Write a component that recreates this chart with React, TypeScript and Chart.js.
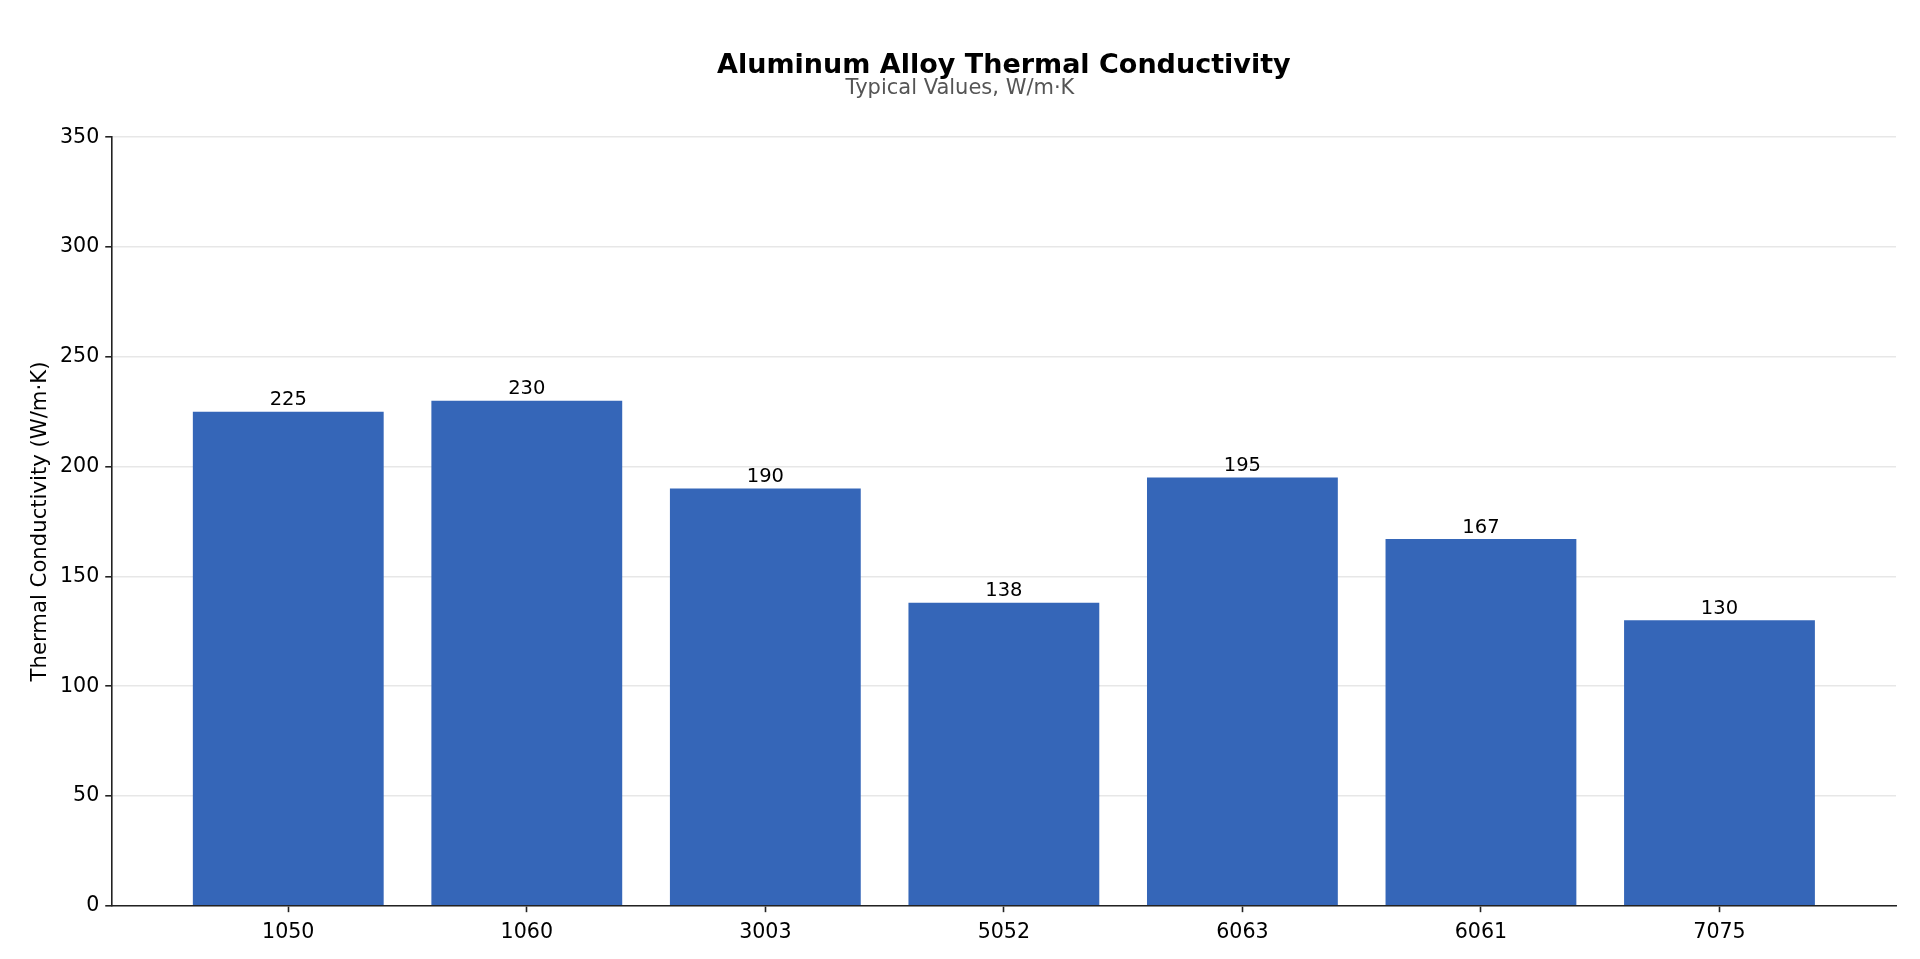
import React, { useEffect, useRef } from "react";
import { Chart, registerables } from "chart.js";

Chart.register(...registerables);

const alloys: string[] = ["1050", "1060", "3003", "5052", "6063", "6061", "7075"];
const conductivity: number[] = [225, 230, 190, 138, 195, 167, 130];
const yTicks: number[] = [0, 50, 100, 150, 200, 250, 300, 350];

const TITLE = "Aluminum Alloy Thermal Conductivity";
const SUBTITLE = "Typical Values, W/m·K";
const Y_LABEL = "Thermal Conductivity (W/m·K)";

const FONT = "'DejaVu Sans', sans-serif";
const BAR_COLOR = "#3566B8";
const AXIS_COLOR = "#222222";
const GRID_COLOR = "rgba(176,176,176,0.3)";

const barLabels = {
  id: "barLabels",
  afterDatasetsDraw(chart: any) {
    const ctx = chart.ctx;
    const meta = chart.getDatasetMeta(0);
    ctx.save();
    ctx.font = `19.5px ${FONT}`;
    ctx.fillStyle = "#000";
    ctx.textAlign = "center";
    ctx.textBaseline = "alphabetic";
    meta.data.forEach((bar: any, i: number) => {
      ctx.fillText(String(conductivity[i]), bar.x, bar.y - 6.5);
    });
    ctx.restore();
  },
};

export default function App() {
  const canvasRef = useRef<HTMLCanvasElement | null>(null);

  useEffect(() => {
    if (!canvasRef.current) return;
    const chart = new Chart(canvasRef.current, {
      type: "bar",
      data: {
        datasets: [
          {
            label: "Thermal Conductivity",
            data: conductivity.map((v, i) => ({ x: i, y: v })),
            backgroundColor: BAR_COLOR,
            borderWidth: 0,
            barPercentage: 0.8,
            categoryPercentage: 1.0,
          },
        ],
      },
      options: {
        animation: false,
        responsive: true,
        maintainAspectRatio: false,
        layout: { padding: { left: 16, right: 16, top: 0, bottom: -1.9 } },
        plugins: {
          legend: { display: false },
          tooltip: { enabled: false },
          title: {
            display: true,
            text: TITLE,
            fullSize: false,
            color: "#000",
            font: { family: FONT, size: 27, weight: "bold", lineHeight: 0.8 },
            padding: { top: 47.5, bottom: 0 },
          },
          subtitle: {
            display: true,
            text: SUBTITLE,
            color: "#555",
            font: { family: FONT, size: 21, lineHeight: 1.0 },
            padding: { top: 0.9, bottom: 38.3 },
          },
        },
        scales: {
          x: {
            type: "linear",
            offset: false,
            min: -0.74,
            max: 6.74,
            afterBuildTicks: (scale: any) => {
              scale.ticks = alloys.map((_, i) => ({ value: i }));
            },
            ticks: {
              autoSkip: false,
              maxRotation: 0,
              color: "#000",
              padding: 8,
              font: { family: FONT, size: 20.6 },
              callback: (v: any) => alloys[Math.round(Number(v))] ?? "",
            },
            grid: {
              offset: false,
              drawOnChartArea: false,
              drawTicks: true,
              tickLength: 6.5,
              tickColor: AXIS_COLOR,
              tickWidth: 1.6,
            },
            border: { display: true, color: AXIS_COLOR, width: 1.6 },
          },
          y: {
            type: "linear",
            min: 0,
            max: 350,
            z: 1,
            afterBuildTicks: (scale: any) => {
              scale.ticks = yTicks.map((v) => ({ value: v }));
            },
            ticks: {
              color: "#000",
              padding: 6,
              font: { family: FONT, size: 20.6 },
            },
            grid: {
              color: GRID_COLOR,
              lineWidth: 1.6,
              drawTicks: true,
              tickLength: 6.5,
              tickColor: AXIS_COLOR,
              tickWidth: 1.6,
            },
            border: { display: true, color: AXIS_COLOR, width: 1.6 },
            title: {
              display: true,
              text: Y_LABEL,
              color: "#000",
              font: { family: FONT, size: 21.2 },
              padding: { top: 4, bottom: 0.5 },
            },
          },
        },
      },
      plugins: [barLabels],
    });
    return () => chart.destroy();
  }, []);

  return (
    <div style={{ position: "relative", width: "1904px", height: "943px" }}>
      <canvas ref={canvasRef} style={{ display: "block" }} />
    </div>
  );
}
